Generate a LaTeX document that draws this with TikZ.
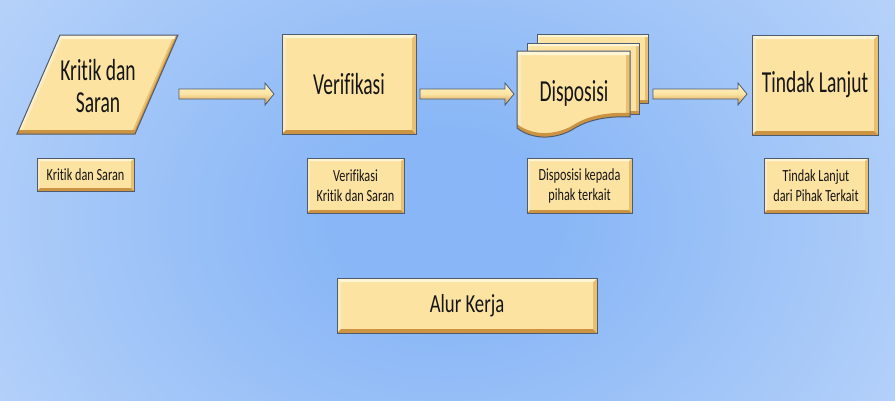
\documentclass[tikz,border=0pt]{standalone}
\usepackage{fontspec}
\setmainfont{Carlito}[FakeStretch=0.72, Ligatures=NoCommon]
\newfontfamily\bigfont{Carlito}[FakeStretch=0.64, Ligatures=NoCommon]
\usetikzlibrary{calc}
\definecolor{face}{HTML}{FCE3A2}
\definecolor{bvtop}{HTML}{FFF5D2}
\definecolor{bvleft}{HTML}{FBEBBC}
\definecolor{bvright}{HTML}{E8C070}
\definecolor{bvbot}{HTML}{CC9442}
\definecolor{edgec}{HTML}{4C5A72}
\definecolor{bgdark}{HTML}{88B6F6}
\definecolor{bglight}{HTML}{DEEAFC}
\definecolor{txt}{HTML}{151515}
\definecolor{arrtop}{HTML}{FFF2C6}
\definecolor{arrbot}{HTML}{C89242}
\pgfdeclareradialshading{bgshade}{\pgfpoint{0bp}{0bp}}{color(0bp)=(bgdark); color(6bp)=(bgdark); color(50bp)=(bglight); color(75bp)=(bglight)}
\tikzset{
  bevel/.style={path picture={
    \coordinate (pnw) at (path picture bounding box.north west);
    \coordinate (pse) at (path picture bounding box.south east);
    \coordinate (pne) at (pnw -| pse);
    \coordinate (psw) at (pse -| pnw);
    \fill[bvleft] (pnw) -- (psw) -- ($(psw)+(#1,-#1)$) -- ($(pnw)+(#1,#1)$) -- cycle;
    \fill[bvright] (pne) -- (pse) -- ($(pse)+(-#1,-#1)$) -- ($(pne)+(-#1,#1)$) -- cycle;
    \fill[bvtop] (pnw) -- (pne) -- ($(pne)+(-#1,#1)$) -- ($(pnw)+(#1,#1)$) -- cycle;
    \fill[bvbot] (psw) -- (pse) -- ($(pse)+(-#1,-#1)$) -- ($(psw)+(#1,-#1)$) -- cycle;
  }},
  box/.style={draw=edgec, line width=1pt, fill=face, inner sep=0pt, text=txt, align=center},
  bigbox/.style={box, bevel=4, font=\bigfont\fontsize{30.5}{32}\selectfont},
  smallbox/.style={box, bevel=3, font=\fontsize{17}{20}\selectfont},
  label/.style={inner sep=0pt, text=txt, align=center},
  biglabel/.style={label, font=\bigfont\fontsize{30.5}{32}\selectfont},
  blockarrow/.style={draw=edgec, line width=0.8pt, top color=arrtop, bottom color=arrbot, middle color=face}
}
\newcommand{\bevelshape}[2]{%
  \begin{scope}
    \clip #1{0}{0};
    \fill[face] #1{0}{0};
    \fill[bvleft,even odd rule] #1{0}{0} #1{#2}{0};
    \fill[bvright,even odd rule] #1{0}{0} #1{0-#2}{0};
    \fill[bvtop,even odd rule] #1{0}{0} #1{0}{#2};
    \fill[bvbot,even odd rule] #1{0}{0} #1{0}{0-#2};
  \end{scope}
  \draw[edgec,line width=1pt] #1{0}{0};}
\newcommand{\paragram}[2]{(60+#1,35+#2) -- (178+#1,35+#2) -- (135+#1,134+#2) -- (17+#1,134+#2) -- cycle}
\newcommand{\sheetback}[2]{(537+#1,34+#2) -- (648+#1,34+#2) -- (648+#1,103+#2) -- (537+#1,103+#2) -- cycle}
\newcommand{\sheetmid}[2]{(527+#1,43+#2) -- (639+#1,43+#2) -- (639+#1,114+#2) -- (527+#1,114+#2) -- cycle}
\newcommand{\sheetfront}[2]{(517+#1,51+#2) -- (630+#1,51+#2) -- (630+#1,117+#2) .. controls (610+#1,116+#2) and (590+#1,119+#2) .. (575+#1,128+#2) .. controls (560+#1,138+#2) and (535+#1,142+#2) .. (517+#1,128+#2) -- cycle}
\newcommand{\barrow}[2]{%
  \path[blockarrow] let \p1=(#1), \p2=(#2) in
    (\x1,\y1+5pt) -- (\x2-9pt,\y1+5pt) -- (\x2-9pt,\y1+11pt) -- (\x2,\y1) --
    (\x2-9pt,\y1-11pt) -- (\x2-9pt,\y1-5pt) -- (\x1,\y1-5pt) -- cycle;}
\begin{document}
\begin{tikzpicture}[x=1pt,y=-1pt]
\useasboundingbox (0,0) rectangle (895,400);
\begin{scope}
  \clip (0,0) rectangle (895,400);
  \shade[shading=bgshade] (-5,-130) rectangle (895,570);
\end{scope}

% Kritik dan Saran (parallelogram)
\bevelshape{\paragram}{4}
\node[biglabel] (ks) at (98,86) {Kritik dan\\Saran};

% Verifikasi
\node[bigbox, minimum width=134pt, minimum height=100pt] (v) at (349,84) {Verifikasi};

% Disposisi (multi-document)
\bevelshape{\sheetback}{3}
\bevelshape{\sheetmid}{3}
\bevelshape{\sheetfront}{4}
\node[biglabel] (d) at (574,93) {Disposisi};

% Tindak Lanjut
\node[bigbox, minimum width=126pt, minimum height=100pt] (t) at (815,85) {Tindak Lanjut};

% arrows
\coordinate (a1s) at (179,94); \coordinate (a1e) at (274,94);
\coordinate (a2s) at (420,94); \coordinate (a2e) at (514,94);
\coordinate (a3s) at (653,94); \coordinate (a3e) at (747,94);
\barrow{a1s}{a1e}
\barrow{a2s}{a2e}
\barrow{a3s}{a3e}

% small boxes
\node[smallbox, minimum width=97pt, minimum height=33pt] (s1) at (85.5,174.5) {Kritik dan Saran};
\node[smallbox, minimum width=97pt, minimum height=55pt] (s2) at (355.5,185.5) {Verifikasi\\Kritik dan Saran};
\node[smallbox, minimum width=105pt, minimum height=55pt] (s3) at (579.5,185.5) {Disposisi kepada\\pihak terkait};
\node[smallbox, minimum width=104pt, minimum height=55pt] (s4) at (816,185.5) {Tindak Lanjut\\dari Pihak Terkait};

% Alur Kerja
\node[box, bevel=4, font=\fontsize{26}{30}\selectfont, minimum width=260pt, minimum height=55pt] (ak) at (467,305.5) {Alur Kerja};
\end{tikzpicture}
\end{document}
